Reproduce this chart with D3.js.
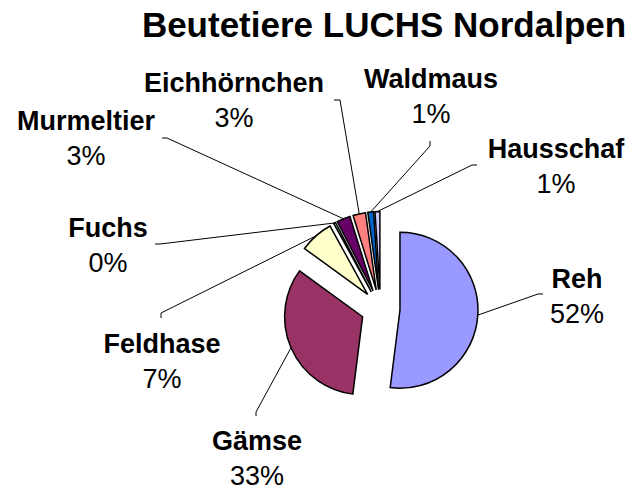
<!DOCTYPE html>
<html>
<head>
<meta charset="utf-8">
<script src="https://cdn.jsdelivr.net/npm/d3@7"></script>
<style>
  html, body { margin: 0; padding: 0; background: #fff; }
  svg { display: block; font-family: "Liberation Sans", Arial, sans-serif; }
</style>
</head>
<body>
<svg id="chart" width="630" height="491"></svg>
<script>
// Beutetiere LUCHS Nordalpen – exploded pie, Excel style

// -------------------------------------------------------------
// Data (share in %)
// -------------------------------------------------------------
const categories = ["Reh", "Gämse", "Feldhase", "Fuchs", "Murmeltier", "Eichhörnchen", "Waldmaus", "Hausschaf"];
const shares = [52, 33, 7, 0.4, 2.8, 2.6, 1.2, 1.0];
const sliceColors = ["#9999FF", "#993366", "#FFFFCC", "#CCFFFF", "#660066", "#FF8080", "#0066CC", "#CCCCFF"];

// -------------------------------------------------------------
// Layout (label anchor + leader elbow/end, not data)
// -------------------------------------------------------------
const labelPos = [
  { x: 577, y: 288 },
  { x: 257, y: 450 },
  { x: 162, y: 353 },
  { x: 108, y: 237 },
  { x: 86, y: 130 },
  { x: 234, y: 92 },
  { x: 431, y: 88 },
  { x: 556, y: 158 }
];
const leaderElbow = [[538, 294], [256, 412], [161, 313], [160, 244], [167, 138], [340, 100], [430, 146], [472, 165]];
const leaderEnd = [[543, 294], [256, 416], [161, 318], [155, 244], [162, 138], [334, 100], [430, 141], [477, 165]];

const cx = 380.5, cy = 309;
const radius = 78;
const explode = 19.5;

const svg = d3.select("#chart");

// Title
svg.append("text")
  .attr("x", 384)
  .attr("y", 37)
  .attr("text-anchor", "middle")
  .attr("font-size", 35)
  .attr("font-weight", "bold")
  .text("Beutetiere LUCHS Nordalpen");

const pie = d3.pie().sort(null).value(d => d);
const arcs = pie(shares);
const total = d3.sum(shares);
const pct = d3.format(".0%");

const arc = d3.arc().innerRadius(0).outerRadius(radius);

function offset(d) {
  const mid = (d.startAngle + d.endAngle) / 2;
  return [Math.sin(mid) * explode, -Math.cos(mid) * explode];
}

const g = svg.append("g").attr("transform", `translate(${cx},${cy})`);

// Slices
g.selectAll("path.slice")
  .data(arcs)
  .join("path")
  .attr("class", "slice")
  .attr("transform", d => `translate(${offset(d)})`)
  .attr("d", arc)
  .attr("fill", (d, i) => sliceColors[i])
  .attr("stroke", "#000")
  .attr("stroke-width", 1.5)
  .attr("stroke-linejoin", "miter");

// Leader lines: from slice rim (mid angle) to elbow, then short tick
g.selectAll("polyline.leader")
  .data(arcs)
  .join("polyline")
  .attr("class", "leader")
  .attr("fill", "none")
  .attr("stroke", "#000")
  .attr("stroke-width", 1)
  .attr("points", (d, i) => {
    const mid = (d.startAngle + d.endAngle) / 2;
    const [ox, oy] = offset(d);
    const sx = ox + Math.sin(mid) * radius;
    const sy = oy - Math.cos(mid) * radius;
    const e = leaderElbow[i], f = leaderEnd[i];
    return [[sx, sy], [e[0] - cx, e[1] - cy], [f[0] - cx, f[1] - cy]].map(p => p.join(",")).join(" ");
  });

// Labels: bold name + percentage
const labels = svg.selectAll("g.label")
  .data(arcs)
  .join("g")
  .attr("class", "label")
  .attr("transform", (d, i) => `translate(${labelPos[i].x},${labelPos[i].y})`);

labels.append("text")
  .attr("text-anchor", "middle")
  .attr("font-size", 27)
  .attr("font-weight", "bold")
  .text((d, i) => categories[i]);

labels.append("text")
  .attr("text-anchor", "middle")
  .attr("y", 35)
  .attr("font-size", 27)
  .text(d => pct(d.value / total));
</script>
</body>
</html>
